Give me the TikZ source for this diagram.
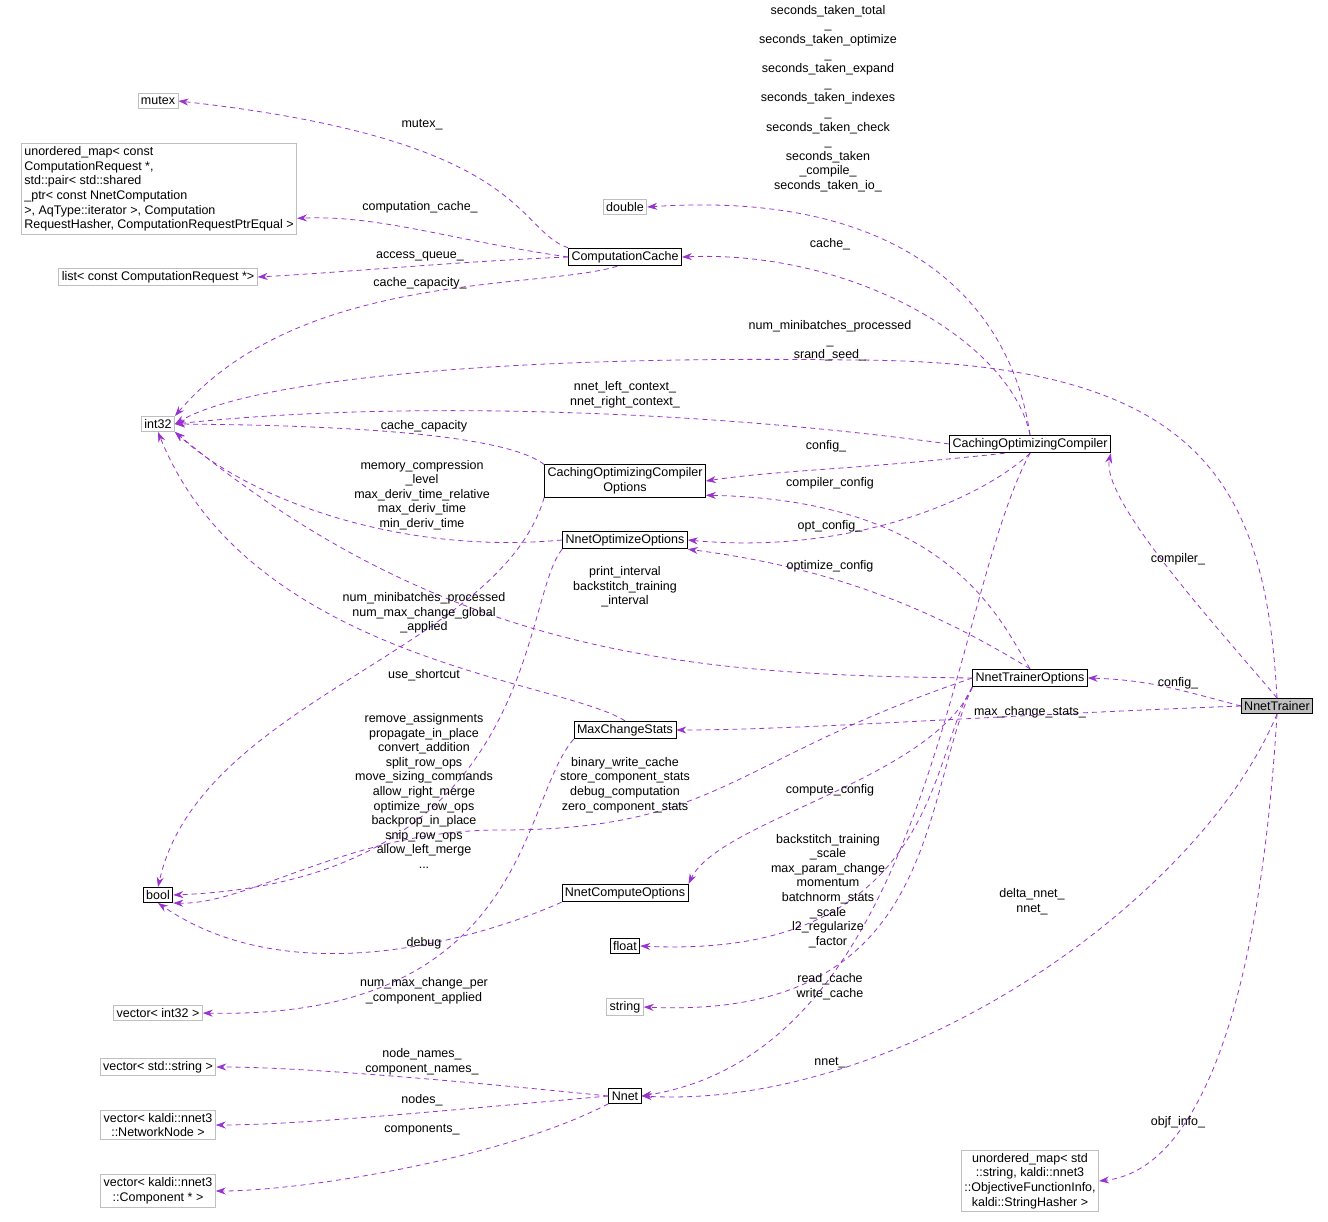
\documentclass[tikz,border=0pt]{standalone}
\usepackage{fontspec}
\setmainfont{Liberation Sans}
\usetikzlibrary{arrows.meta}
\definecolor{ep}{HTML}{9A32CD}
\definecolor{gb}{HTML}{BFBFBF}
\begin{document}
\begin{tikzpicture}[x=1pt,y=1pt,font=\fontsize{12.5}{14.6}\selectfont,
 box/.style={draw=black,rectangle,inner sep=3pt,align=center,line width=0.8pt},
 gbox/.style={box,draw=gb},
 lab/.style={align=center,inner sep=0pt},
 e/.style={draw=ep,dashed,line width=0.8pt,-{Stealth[length=10pt,width=7pt]},dash pattern=on 5pt off 4pt}]
\useasboundingbox (0,0) rectangle (1328,-1222);
% nodes
\node[gbox] (mutex) at (158,-101) {mutex};
\node[gbox,align=left] (um) at (159,-189) {unordered\_map< const\\ ComputationRequest *,\\ std::pair< std::shared\\\_ptr< const NnetComputation\\ >, AqType::iterator >, Computation\\RequestHasher, ComputationRequestPtrEqual >};
\node[gbox] (list) at (158,-277) {list< const ComputationRequest *>};
\node[gbox] (int32) at (158,-424) {int32};
\node[box] (bool) at (158,-895) {bool};
\node[gbox] (vint) at (158,-1013) {vector< int32 >};
\node[gbox] (vstr) at (158,-1067) {vector< std::string >};
\node[gbox] (vnn) at (158,-1125) {vector< kaldi::nnet3\\::NetworkNode >};
\node[gbox] (vcomp) at (158,-1191) {vector< kaldi::nnet3\\::Component * >};
\node[gbox] (double) at (625,-207) {double};
\node[box] (cc) at (625,-257) {ComputationCache};
\node[box] (coco) at (625,-481) {CachingOptimizingCompiler\\Options};
\node[box] (noo) at (625,-540) {NnetOptimizeOptions};
\node[box] (mcs) at (625,-730) {MaxChangeStats};
\node[box] (nco) at (625,-893) {NnetComputeOptions};
\node[box] (float) at (625,-946) {float};
\node[gbox] (string) at (625,-1007) {string};
\node[box] (nnet) at (625,-1096) {Nnet};
\node[box] (coc) at (1030,-444) {CachingOptimizingCompiler};
\node[box] (nto) at (1030,-678) {NnetTrainerOptions};
\node[box,fill=gb] (nt) at (1277,-706) {NnetTrainer};
\node[gbox] (objf) at (1030,-1181) {unordered\_map< std\\::string, kaldi::nnet3\\::ObjectiveFunctionInfo,\\ kaldi::StringHasher >};
% edges
\draw[e] (cc.north west) .. controls (515,-230) and (530,-140) .. (mutex.east);
\draw[e] (cc.west) .. controls (450,-240) and (380,-215) .. (um.-12);
\draw[e] (cc.west) .. controls (450,-262) and (350,-272) .. (list.east);
\draw[e] (cc.230) .. controls (540,-290) and (300,-270) .. (int32.north east);
\draw[e] (coc.north) .. controls (1010,-300) and (900,-190) .. (double.east);
\draw[e] (coc.north) .. controls (1010,-340) and (850,-250) .. (cc.east);
\draw[e] (nt.north) .. controls (1265,-480) and (1200,-360) .. (850,-360) .. controls (500,-355) and (250,-380) .. (int32.east);
\draw[e] (coc.west) .. controls (700,-410) and (400,-400) .. (int32.east);
\draw[e] (coco.north west) .. controls (500,-430) and (300,-425) .. (int32.east);
\draw[e] (coc.200) .. controls (850,-470) and (780,-470) .. (coco.east);
\draw[e] (nto.north) .. controls (1000,-620) and (950,-500) .. (coco.-10);
\draw[e] (noo.west) .. controls (400,-555) and (250,-500) .. (int32.south east);
\draw[e] (coc.south) .. controls (980,-500) and (850,-555) .. (noo.east);
\draw[e] (nto.north) .. controls (950,-620) and (850,-570) .. (noo.south east);
\draw[e] (nto.west) .. controls (700,-675) and (450,-660) .. (int32.south east);
\draw[e] (mcs.north) .. controls (560,-680) and (250,-660) .. (int32.south);
\draw[e] (coco.south west) .. controls (500,-650) and (200,-700) .. (bool.north);
\draw[e] (noo.south west) .. controls (520,-600) and (540,-880) .. (bool.east);
\draw[e] (nto.west) .. controls (730,-760) and (720,-830) .. (500,-830) .. controls (350,-830) and (250,-905) .. (bool.south east);
\draw[e] (mcs.south west) .. controls (520,-800) and (530,-1020) .. (vint.east);
\draw[e] (nco.south west) .. controls (500,-930) and (300,-1000) .. (bool.south);
\draw[e] (nt.west) .. controls (1180,-690) and (1150,-680) .. (nto.east);
\draw[e] (nt.west) .. controls (1000,-715) and (800,-730) .. (mcs.east);
\draw[e] (nto.south west) .. controls (930,-780) and (720,-820) .. (nco.north east);
\draw[e] (nto.south west) .. controls (930,-750) and (940,-960) .. (float.east);
\draw[e] (nto.south west) .. controls (920,-800) and (940,-1020) .. (string.east);
\draw[e] (coc.south) .. controls (950,-600) and (930,-1050) .. (nnet.east);
\draw[e] (nt.south) .. controls (1200,-900) and (900,-1110) .. (nnet.east);
\draw[e] (nt.north) .. controls (1220,-630) and (1100,-500) .. (coc.south east);
\draw[e] (nnet.west) .. controls (450,-1080) and (300,-1067) .. (vstr.east);
\draw[e] (nnet.west) .. controls (450,-1110) and (300,-1125) .. (vnn.east);
\draw[e] (nnet.south west) .. controls (500,-1160) and (300,-1191) .. (vcomp.east);
\draw[e] (nt.south) .. controls (1260,-1000) and (1200,-1170) .. (objf.east);
% labels
\node[lab,anchor=north] at (828,-5) {seconds\_taken\_total\\\_\\seconds\_taken\_optimize\\\_\\seconds\_taken\_expand\\\_\\seconds\_taken\_indexes\\\_\\seconds\_taken\_check\\\_\\seconds\_taken\\\_compile\_\\seconds\_taken\_io\_};
\node[lab] at (422,-125) {mutex\_};
\node[lab] at (420,-207) {computation\_cache\_};
\node[lab] at (420,-256) {access\_queue\_};
\node[lab] at (420,-283) {cache\_capacity\_};
\node[lab] at (830,-244) {cache\_};
\node[lab] at (830,-341) {num\_minibatches\_processed\\\_\\srand\_seed\_};
\node[lab] at (625,-395) {nnet\_left\_context\_\\nnet\_right\_context\_};
\node[lab] at (424,-426) {cache\_capacity};
\node[lab] at (826,-446) {config\_};
\node[lab] at (830,-483) {compiler\_config};
\node[lab] at (422,-495) {memory\_compression\\\_level\\max\_deriv\_time\_relative\\max\_deriv\_time\\min\_deriv\_time};
\node[lab] at (830,-526) {opt\_config\_};
\node[lab] at (830,-566) {optimize\_config};
\node[lab] at (625,-587) {print\_interval\\backstitch\_training\\\_interval};
\node[lab] at (424,-613) {num\_minibatches\_processed\\num\_max\_change\_global\\\_applied};
\node[lab] at (424,-675) {use\_shortcut};
\node[lab] at (424,-791) {remove\_assignments\\propagate\_in\_place\\convert\_addition\\split\_row\_ops\\move\_sizing\_commands\\allow\_right\_merge\\optimize\_row\_ops\\backprop\_in\_place\\snip\_row\_ops\\allow\_left\_merge\\...};
\node[lab] at (625,-785) {binary\_write\_cache\\store\_component\_stats\\debug\_computation\\zero\_component\_stats};
\node[lab] at (424,-943) {debug};
\node[lab] at (424,-991) {num\_max\_change\_per\\\_component\_applied};
\node[lab] at (1178,-683) {config\_};
\node[lab] at (1030,-712) {max\_change\_stats\_};
\node[lab] at (1178,-559) {compiler\_};
\node[lab] at (830,-790) {compute\_config};
\node[lab] at (828,-891) {backstitch\_training\\\_scale\\max\_param\_change\\momentum\\batchnorm\_stats\\\_scale\\l2\_regularize\\\_factor};
\node[lab] at (830,-987) {read\_cache\\write\_cache};
\node[lab] at (830,-1063) {nnet\_};
\node[lab] at (1032,-902) {delta\_nnet\_\\nnet\_};
\node[lab] at (422,-1062) {node\_names\_\\component\_names\_};
\node[lab] at (422,-1100) {nodes\_};
\node[lab] at (422,-1130) {components\_};
\node[lab] at (1178,-1122) {objf\_info\_};
\end{tikzpicture}
\end{document}
